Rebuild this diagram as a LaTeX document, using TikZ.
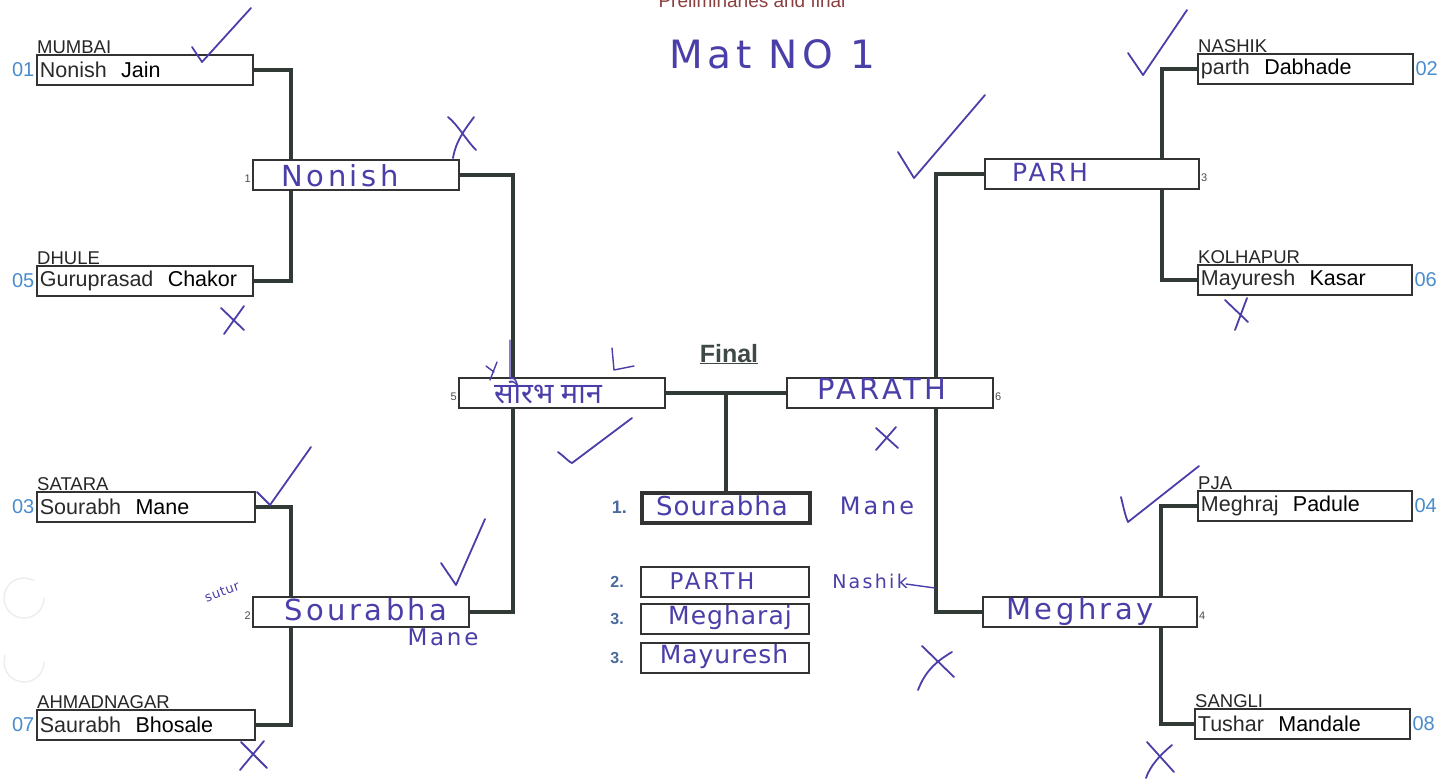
\documentclass[tikz,border=0pt]{standalone}
\usepackage{fontspec}
\setmainfont{Liberation Sans}
\newfontfamily\devfont[Script=Devanagari]{Noto Sans}
\newfontfamily\hand[LetterSpace=12]{DejaVu Sans}
\newfontfamily\handn[LetterSpace=4]{DejaVu Sans}
\usetikzlibrary{calc}
\definecolor{linkc}{HTML}{323A36}
\definecolor{boxc}{HTML}{333333}
\definecolor{seedc}{HTML}{4A8CCC}
\definecolor{inkc}{HTML}{4A3EA8}
\definecolor{rankc}{HTML}{4A6B9C}
\definecolor{titlec}{HTML}{8B4040}
\definecolor{finalc}{HTML}{3F4A48}
\definecolor{fnc}{HTML}{2A2A2A}
\newcommand{\pname}[2]{{\color{fnc}#1}\ \ #2}
\begin{document}
\begin{tikzpicture}[x=1pt,y=-1pt,
  pbox/.style={draw=boxc, fill=white, line width=1.8pt, inner xsep=3pt, inner ysep=0pt,
    minimum height=30pt, anchor=north west, text width=#1, align=left,
    font=\fontsize{21.5}{21.5}\selectfont},
  cbox/.style={draw=boxc, fill=white, line width=1.8pt, inner sep=0pt,
    minimum height=30pt, minimum width=168pt, anchor=north west},
  city/.style={inner sep=0pt, anchor=base west, font=\fontsize{18.5}{18.5}\selectfont, text=black!85},
  seed/.style={inner sep=1.5pt, font=\fontsize{20}{20}\selectfont, text=seedc},
  rnum/.style={inner sep=1pt, font=\fontsize{11}{11}\selectfont, text=black!70},
  rank/.style={inner sep=0pt, anchor=east, font=\bfseries\fontsize{18}{18}\selectfont, text=rankc},
  link/.style={draw=linkc, line width=3.8pt},
  ink/.style={text=inkc, inner sep=0pt},
  pen/.style={draw=inkc, line width=1.8pt, line cap=round, line join=round}]
\useasboundingbox (0,0) rectangle (1450,780);
\fill[white] (0,0) rectangle (1450,780);

% title (cut at top)
\node[inner sep=0pt, anchor=base, text=titlec, font=\fontsize{19}{19}\selectfont] (title) at (752,7) {Preliminaries and final};
\node[ink, font=\hand\fontsize{39}{39}\selectfont] (mat) at (772,54) {Mat NO 1};

% faint circles
\draw[black!8, line width=1.2pt] (44,598) arc (0:300:20);
\draw[black!8, line width=1.2pt] (44,662) arc (0:200:20);

% first round left
\node[pbox=210pt] (p01) at (36,54) {\pname{Nonish}{Jain}};
\node[pbox=210pt] (p05) at (36,265) {\pname{Guruprasad}{Chakor}};
\node[pbox=212pt] (p03) at (36,491) {\pname{Sourabh}{Mane}};
\node[pbox=212pt] (p07) at (36,709) {\pname{Saurabh}{Bhosale}};
% first round right
\node[pbox=209pt] (p02) at (1197,53) {\pname{parth}{Dabhade}};
\node[pbox=208pt] (p06) at (1197,264) {\pname{Mayuresh}{Kasar}};
\node[pbox=208pt] (p04) at (1197,490) {\pname{Meghraj}{Padule}};
\node[pbox=209pt] (p08) at (1194,708) {\pname{Tushar}{Mandale}};

% second round
\node[pbox=200pt] (r1) at (252,159) {};
\node[pbox=210pt] (r2) at (252,596) {};
\node[pbox=208pt] (r3) at (984,158) {};
\node[pbox=208pt] (r4) at (982,596) {};
% semifinal
\node[pbox=200pt] (s5) at (458,377) {};
\node[pbox=200pt] (s6) at (786,377) {};

% champion boxes
\node[cbox, line width=4pt] (ch1) at (640,491) {};
\node[cbox] (ch2) at (640,566) {};
\node[cbox] (ch3) at (640,603) {};
\node[cbox] (ch4) at (640,642) {};

% connectors
\draw[link] (p01.east) -| ($(r1.north west)+(39,0)$);
\draw[link] (p05.east) -| ($(r1.south west)+(39,0)$);
\draw[link] (p03.east) -| ($(r2.north west)+(39,0)$);
\draw[link] (p07.east) -| ($(r2.south west)+(39,0)$);
\draw[link] (r1.east) -| ($(s5.north west)+(55,0)$);
\draw[link] (r2.east) -| ($(s5.south west)+(55,0)$);
\draw[link] (p02.west) -| ($(r3.north east)+(-38,0)$);
\draw[link] (p06.west) -| ($(r3.south east)+(-38,0)$);
\draw[link] (p04.west) -| ($(r4.north east)+(-37,0)$);
\draw[link] (p08.west) -| ($(r4.south east)+(-37,0)$);
\draw[link] (r3.west) -| ($(s6.north west)+(150,0)$);
\draw[link] (r4.west) -| ($(s6.south west)+(150,0)$);
\draw[link] (s5.east) -- (s6.west);
\coordinate (fj) at ($(s5.east)!0.5!(s6.west)$);
\draw[link] (fj) -- (ch1.north);

% cities
\node[city] (c01) at ($(p01.north west)+(1,-1)$) {MUMBAI};
\node[city] (c05) at ($(p05.north west)+(1,-1)$) {DHULE};
\node[city] (c03) at ($(p03.north west)+(1,-1)$) {SATARA};
\node[city] (c07) at ($(p07.north west)+(1,-1)$) {AHMADNAGAR};
\node[city] (c02) at ($(p02.north west)+(1,-1)$) {NASHIK};
\node[city] (c06) at ($(p06.north west)+(1,-1)$) {KOLHAPUR};
\node[city] (c04) at ($(p04.north west)+(1,-1)$) {PJA};
\node[city] (c08) at ($(p08.north west)+(1,-1)$) {SANGLI};

% seeds
\node[seed, anchor=east] (n01) at (p01.west) {01};
\node[seed, anchor=east] (n05) at (p05.west) {05};
\node[seed, anchor=east] (n03) at (p03.west) {03};
\node[seed, anchor=east] (n07) at (p07.west) {07};
\node[seed, anchor=west] (n02) at (p02.east) {02};
\node[seed, anchor=west] (n06) at (p06.east) {06};
\node[seed, anchor=west] (n04) at (p04.east) {04};
\node[seed, anchor=west] (n08) at (p08.east) {08};

% round numbers
\node[rnum, anchor=east] (l1) at ($(r1.west)+(0,4)$) {1};
\node[rnum, anchor=east] (l2) at ($(r2.west)+(0,4)$) {2};
\node[rnum, anchor=west] (l3) at ($(r3.east)+(0,4)$) {3};
\node[rnum, anchor=west] (l4) at ($(r4.east)+(0,4)$) {4};
\node[rnum, anchor=east] (l5) at ($(s5.west)+(0,4)$) {5};
\node[rnum, anchor=west] (l6) at ($(s6.east)+(0,4)$) {6};

% Final
\node[inner sep=0pt, anchor=base, text=finalc, font=\bfseries\fontsize{25}{25}\selectfont] (fin) at (729,362) {\underline{Final}};

% ranks
\node[rank] (k1) at ($(ch1.west)+(-13,-1)$) {1.};
\node[rank, font=\bfseries\fontsize{16}{16}\selectfont] (k2) at ($(ch2.west)+(-16,0)$) {2.};
\node[rank, font=\bfseries\fontsize{16}{16}\selectfont] (k3) at ($(ch3.west)+(-16,0)$) {3.};
\node[rank, font=\bfseries\fontsize{16}{16}\selectfont] (k4) at ($(ch4.west)+(-16,0)$) {3.};

% handwriting
\node[ink, font=\hand\fontsize{29}{29}\selectfont] (h1) at (340,176) {Nonish};
\node[ink, font=\hand\fontsize{25}{25}\selectfont] (h3) at (1050,172) {PARH};
\node[ink, font=\devfont\fontsize{29}{29}\selectfont] (h5) at (548,391) {सौरभ मान};
\node[ink, font=\hand\fontsize{29}{29}\selectfont] (h6) at (882,389) {PARATH};
\node[ink, font=\hand\fontsize{29}{29}\selectfont] (h2) at (366,610) {Sourabha};
\node[ink, font=\hand\fontsize{23}{23}\selectfont] (h2b) at (443,637) {Mane};
\node[ink, font=\handn\fontsize{13}{13}\selectfont, rotate=20, inner sep=0pt] (h2c) at (222,592) {sutur};
\node[ink, font=\hand\fontsize{29}{29}\selectfont] (h4) at (1080,611) {Meghray};
\node[ink, font=\handn\fontsize{26}{26}\selectfont] (hc1) at (722,506) {Sourabha};
\node[ink, font=\hand\fontsize{24}{24}\selectfont] (hc1b) at (877,506) {Mane};
\node[ink, font=\hand\fontsize{23}{23}\selectfont] (hc2) at (712,581) {PARTH};
\node[ink, font=\hand\fontsize{19}{19}\selectfont] (hc2b) at (870,581) {Nashik};
\draw[pen, line width=1.4pt] (906,584) -- (935,588);
\node[ink, font=\handn\fontsize{25}{25}\selectfont] (hc3) at (730,618) {Megharaj};
\node[ink, font=\handn\fontsize{25}{25}\selectfont] (hc4) at (724,657) {Mayuresh};

% scribbles near semifinal left
\draw[pen, line width=1.4pt] (612,348) -- (614,370) -- (634,366);
\draw[pen, line width=1.4pt] (486,366) -- (494,372) (497,362) -- (490,380) (510,340) -- (510,378);

% check marks
\draw[pen] (192,47) -- (202,62) -- (251,8);
\draw[pen] (898,152) -- (914,178) -- (985,95);
\draw[pen] (1128,53) -- (1143,75) -- (1187,10);
\draw[pen] (558,452) .. controls (566,458) and (569,462) .. (572,463) -- (632,418);
\draw[pen] (257,492) -- (270,505) -- (311,447);
\draw[pen] (441,563) -- (456,585) -- (485,519);
\draw[pen] (1121,497) .. controls (1124,510) and (1126,518) .. (1128,522) -- (1199,466);

% crosses
\draw[pen] (448,117) .. controls (458,125) and (466,140) .. (476,150) (474,117) .. controls (466,128) and (456,140) .. (453,158);
\draw[pen] (221,308) -- (244,330) (244,306) -- (224,334);
\draw[pen] (1225,300) -- (1248,322) (1247,298) -- (1235,330);
\draw[pen] (876,428) -- (898,448) (896,427) -- (876,450);
\draw[pen] (241,742) -- (267,768) (264,741) -- (240,770);
\draw[pen] (922,646) -- (954,677) (952,652) .. controls (935,662) and (925,672) .. (918,690);
\draw[pen] (1147,742) -- (1174,772) (1172,745) .. controls (1160,755) and (1150,766) .. (1146,778);
\end{tikzpicture}
\end{document}
